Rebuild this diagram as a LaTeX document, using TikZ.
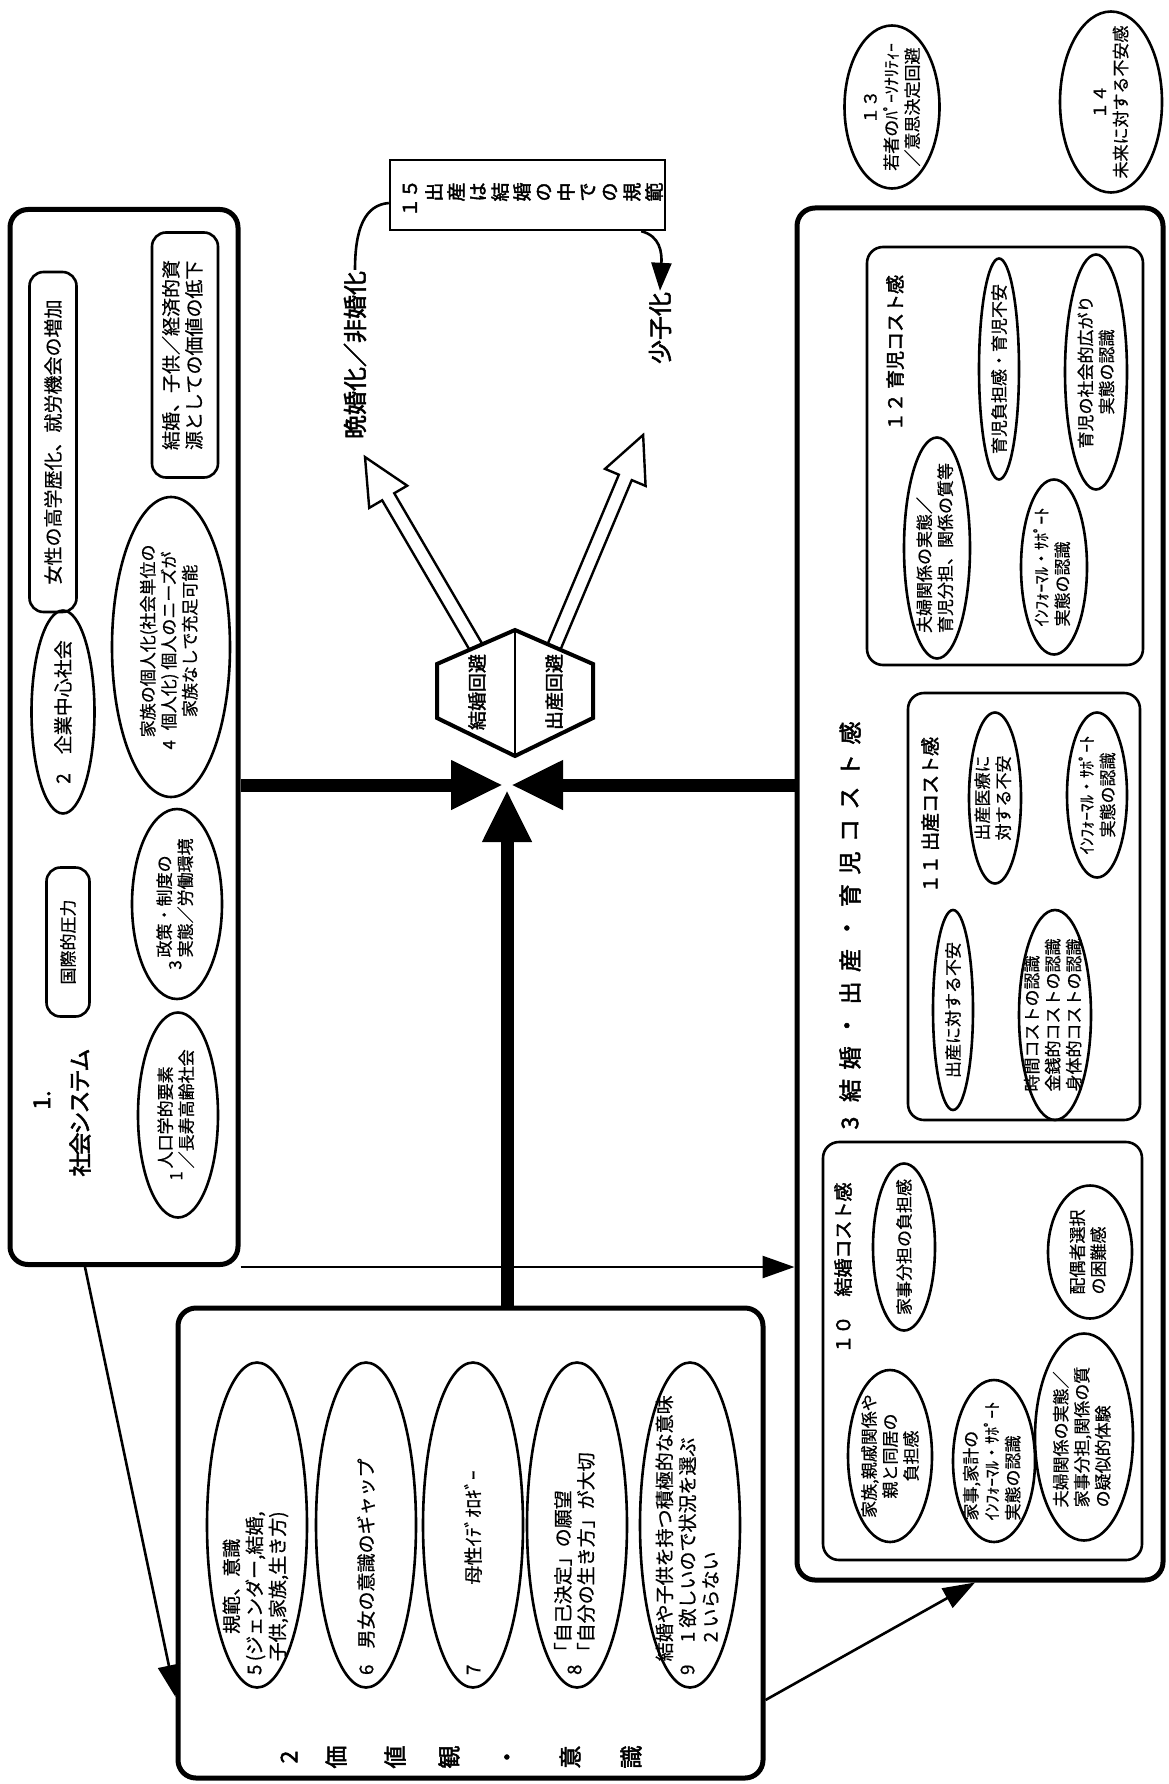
\documentclass[tikz,border=0pt]{standalone}
\usepackage{fontspec}
\setmainfont{Noto Sans CJK JP}[FakeBold=0.6]
\newfontfamily\heavy{Noto Sans CJK JP}[FakeBold=2.2]
\usetikzlibrary{shapes.geometric,arrows.meta}
\newcommand\jfont{\fontsize{17}{21}\selectfont}
\newcommand\kfont{\fontsize{19}{23}\selectfont}
\newcommand\hfont{\heavy\fontsize{23}{26}\selectfont}
\newcommand\lines[1]{\begin{tabular}{@{}l@{}}#1\end{tabular}}
\newcommand\clines[1]{\begin{tabular}{@{}c@{}}#1\end{tabular}}
\begin{document}
\begin{tikzpicture}[
    x=1pt, y=-1pt,
    txt/.style      = {rotate=90, font=\jfont, inner sep=1pt, align=center},
    heading/.style  = {txt, font=\hfont},
    dims/.style 2 args = {minimum width=#1pt, minimum height=#2pt},
    oval/.style     = {txt, ellipse, draw, line width=2.6pt, inner sep=-40pt},
    tag/.style      = {txt, draw, rounded corners=14pt, line width=2.6pt, inner sep=0pt},
    panel/.style    = {draw, line width=5pt, rounded corners=18pt},
    subpanel/.style = {draw, line width=2.6pt, rounded corners=16pt},
    feed/.style     = {line width=13pt, -{Triangle[length=52pt,width=46pt]}},
    link/.style     = {line width=2.6pt, -{Triangle[length=32pt,width=22pt]}},
    hollow/.style   = {line width=2.4pt, line join=miter},
  ]
  \useasboundingbox (0,0) rectangle (1168,1784);

  % 1. 社会システム
  \node[panel, minimum width=228pt, minimum height=1055pt] (sys) at (124,737) {};
  \node[heading] (sys-no) at (42,1100) {1.};
  \foreach \c [count=\i from 0] in {社,会,シ,ス,テ,ム}
    \node[heading] (sys-t\i) at (80,1165-21*\i) {\c};
  \node[tag, dims={340}{47}, font=\kfont] (women) at (53,442) {女性の高学歴化、就労機会の増加};
  \node[tag, dims={245}{66}, font=\kfont] (worth) at (185,355) {\lines{結婚、子供／経済的資\\源としての価値の低下}};
  \node[oval, dims={300}{118}] (e4) at (171,647)
    {4\,\clines{家族の個人化(社会単位の\\個人化) 個人のニーズが\\家族なしで充足可能}};
  \node[oval, dims={203}{63}, font=\kfont] (e2) at (63,712) {2　企業中心社会};
  \node[tag, dims={149}{43}] (press) at (68,942) {国際的圧力};
  \node[oval, dims={190}{90}] (e3) at (177,904) {3\,\lines{政策・制度の\\実態／労働環境}};
  \node[oval, dims={205}{80}] (e1) at (178,1115) {1\,\lines{人口学的要素\\／長寿高齢社会}};

  % 2 価値観・意識
  \node[panel, minimum width=585pt, minimum height=470pt] (val) at (470.5,1543) {};
  \node[oval, dims={325}{100}, font=\kfont] (v5) at (257,1525)
    {\makebox[300pt][l]{5\,\clines{規範、意識\\(ジェンダー,結婚,\\子供,家族,生き方)}}};
  \node[oval, dims={325}{100}, font=\kfont] (v6) at (366,1525)
    {\makebox[300pt][l]{6\hspace{16pt}男女の意識のギャップ}};
  \node[oval, dims={325}{100}, font=\kfont] (v7) at (473,1525)
    {\makebox[300pt][l]{7\hspace{80pt}母性ｲﾃﾞｵﾛｷﾞｰ}};
  \node[oval, dims={325}{100}, font=\kfont] (v8) at (577,1525)
    {\makebox[300pt][l]{8\,\lines{「自己決定」の願望\\「自分の生き方」が大切}}};
  \node[oval, dims={325}{100}, font=\kfont] (v9) at (690,1525)
    {\makebox[300pt][l]{9\,\lines{結婚や子供を持つ積極的な意味\\\quad 1 欲しいので状況を選ぶ\\\quad 2 いらない}}};
  \foreach \c/\x [count=\i] in {2/289,価/336,値/395,観/449,・/510,意/570,識/631}
    \node[heading] (val-t\i) at (\x,1757) {\c};

  % 3 結婚・出産・育児コスト感
  \node[panel, minimum width=366pt, minimum height=1372pt] (cost) at (980,894) {};
  \foreach \c [count=\i from 0] in {3,結,婚,・,出,産,・,育,児,コ,ス,ト,感}
    \node[heading] (cost-t\i) at (850,1123-32.5*\i) {\c};

  % 10 結婚コスト感
  \node[subpanel, minimum width=319pt, minimum height=418pt] (c10) at (982.5,1351) {};
  \node[heading, font=\heavy\kfont] (c10-t) at (843,1268) {１０　結婚コスト感};
  \node[oval, dims={167}{62}] (c10-a) at (904,1247) {家事分担の負担感};
  \node[oval, dims={133}{84}] (c10-b) at (1090,1252) {\lines{配偶者選択\\の困難感}};
  \node[oval, dims={172}{84}] (c10-c) at (890,1456) {家族,親戚関係や\\親と同居の\\負担感};
  \node[oval, dims={162}{82}] (c10-d) at (994,1461) {\lines{家事,家計の\\ｲﾝﾌｫｰﾏﾙ・ｻﾎﾟｰﾄ\\実態の認識}};
  \node[oval, dims={207}{98}] (c10-e) at (1084,1437) {\lines{夫婦関係の実態／\\家事分担,関係の質\\の疑似的体験}};

  % 11 出産コスト感
  \node[subpanel, minimum width=232pt, minimum height=427pt] (c11) at (1024,906.5) {};
  \node[heading, font=\heavy\kfont] (c11-t) at (930,815) {１１ 出産コスト感};
  \node[oval, dims={200}{40}] (c11-a) at (953,1010) {出産に対する不安};
  \node[oval, dims={210}{72}] (c11-b) at (1055,1015) {\lines{時間コストの認識\\金銭的コストの認識\\身体的コストの認識}};
  \node[oval, dims={171}{52}] (c11-c) at (995,798) {\lines{出産医療に\\対する不安}};
  \node[oval, dims={165}{60}] (c11-d) at (1097,795) {ｲﾝﾌｫｰﾏﾙ・ｻﾎﾟｰﾄ\\実態の認識};

  % 12 育児コスト感
  \node[subpanel, minimum width=276pt, minimum height=418pt] (c12) at (1005,456) {};
  \node[heading, font=\heavy\kfont] (c12-t) at (895,353) {１２ 育児コスト感};
  \node[oval, dims={221}{66}] (c12-a) at (937,548) {\lines{夫婦関係の実態／\\育児分担、関係の質等}};
  \node[oval, dims={221}{40}] (c12-b) at (999,369) {育児負担感・育児不安};
  \node[oval, dims={175}{66}] (c12-c) at (1054,567) {\lines{ｲﾝﾌｫｰﾏﾙ・ｻﾎﾟｰﾄ\\実態の認識}};
  \node[oval, dims={235}{62}] (c12-d) at (1096,372) {育児の社会的広がり\\実態の認識};

  % 13, 14
  \node[oval, dims={163}{95}] (p13) at (892,107) {１３\\若者のﾊﾟｰｿﾅﾘﾃｨｰ\\／意思決定回避};
  \node[oval, dims={181}{102}] (p14) at (1111,102) {１４\\未来に対する不安感};

  % 結婚回避 / 出産回避
  \coordinate (hexT) at (515,630);
  \coordinate (hexUR) at (593,664);
  \coordinate (hexLR) at (593,718);
  \coordinate (hexB) at (515,756);
  \coordinate (hexLL) at (437,718);
  \coordinate (hexUL) at (437,664);
  \draw[line width=4pt, line join=miter] (hexT) -- (hexUR) -- (hexLR) -- (hexB) -- (hexLL) -- (hexUL) -- cycle;
  \draw[line width=1.2pt] (hexT) -- (hexB);
  \node[heading, font=\heavy\kfont] (avoidM) at (477,692) {結婚回避};
  \node[heading, font=\heavy\kfont] (avoidB) at (554,692) {出産回避};

  % 収束する矢印
  \coordinate (hub) at (507,785);
  \draw[feed] (hub |- val.north) -- ([yshift=-5pt]hub);
  \draw[feed] (sys.east |- hub) -- ([xshift=-4pt]hub);
  \draw[feed] (cost.west |- hub) -- ([xshift=4pt]hub);

  % 白抜き矢印
  \coordinate (outM) at (476,647);
  \coordinate (outB) at (554,647);
  \begin{scope}[shift={(outM)}, rotate=120.3]
    \draw[hollow] (0,7) -- (174,7) -- (174,22) -- (220,0) -- (174,-22) -- (174,-7) -- (0,-7);
  \end{scope}
  \begin{scope}[shift={(outB)}, rotate=67.2]
    \draw[hollow] (0,7) -- (184,7) -- (184,22) -- (230,0) -- (184,-22) -- (184,-7) -- (0,-7);
  \end{scope}
  \node[heading, font=\heavy\fontsize{24}{26}\selectfont] (late) at (355,355) {晩婚化／非婚化};
  \node[heading, font=\heavy\fontsize{24}{26}\selectfont] (fewkids) at (660,328) {少子化};

  % 15
  \node[draw, line width=2.4pt, minimum width=275pt, minimum height=70pt] (norm) at (527.5,195) {};
  \node[heading, font=\heavy\kfont] (norm-no) at (410,198) {１５};
  \foreach \c [count=\i from 0] in {出,産,は,結,婚,の,中,で,の,規,範}
    \node[txt, font=\heavy\kfont] (norm-\i) at (434+22*\i,192) {\c};
  \draw[line width=2.6pt] ([yshift=-8pt]norm.west) .. controls (365,205) and (355,228) .. (late.east);
  \draw[line width=2.6pt, -{Triangle[length=28pt,width=20pt]}]
    ([xshift=-25pt]norm.south east) .. controls (660,236) and (662,252) .. (fewkids.east);

  % 矢印 (枠どうし)
  \draw[link] ([xshift=-39pt]sys.south) -- ([yshift=-154pt]val.west);
  \draw[link] (sys.south east) -- (sys.south east -| cost.west);
  \draw[link] ([yshift=-157pt]val.east) -- ([xshift=-5pt]cost.south);
\end{tikzpicture}
\end{document}
